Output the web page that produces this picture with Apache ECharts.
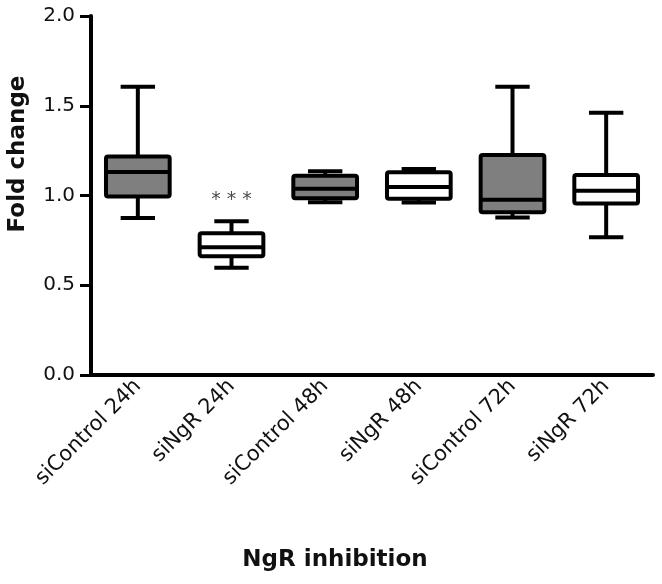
<!DOCTYPE html>
<html>
<head>
<meta charset="utf-8">
<script src="https://cdn.jsdelivr.net/npm/echarts@6/dist/echarts.min.js"></script>
<style>
  html, body { margin: 0; padding: 0; background: #fff; }
  #chart { width: 662px; height: 584px; }
</style>
</head>
<body>
<div id="chart"></div>
<script>
const categories = ['siControl 24h', 'siNgR 24h', 'siControl 48h', 'siNgR 48h', 'siControl 72h', 'siNgR 72h'];
const whiskerLow  = [0.875, 0.598, 0.962, 0.961, 0.877, 0.767];
const q1          = [0.994, 0.662, 0.984, 0.982, 0.906, 0.956];
const median      = [1.131, 0.712, 1.038, 1.048, 0.976, 1.027];
const q3          = [1.217, 0.790, 1.110, 1.130, 1.226, 1.114];
const whiskerHigh = [1.606, 0.857, 1.135, 1.148, 1.606, 1.461];
const significance = ['', '***', '', '', '', ''];
const yTicks = [0, 0.5, 1.0, 1.5, 2.0];

const boxFills = ['#7f7f7f', '#ffffff', '#7f7f7f', '#ffffff', '#7f7f7f', '#ffffff'];
const FONT = 'DejaVu Sans';

const chart = echarts.init(document.getElementById('chart'), null, { renderer: 'canvas' });

const data = categories.map((c, i) => [i, whiskerLow[i], q1[i], median[i], q3[i], whiskerHigh[i]]);

function renderItem(params, api) {
  const i = api.value(0);
  const lo = api.coord([i, api.value(1)]);
  const p1 = api.coord([i, api.value(2)]);
  const pm = api.coord([i, api.value(3)]);
  const p3 = api.coord([i, api.value(4)]);
  const hi = api.coord([i, api.value(5)]);
  const cx = lo[0];
  const bw = api.size([1, 0])[0] * 0.68;
  const hb = bw / 2;
  const hc = bw * 0.27;
  const stroke = { stroke: '#000', lineWidth: 4, lineCap: 'butt' };
  const children = [
    { type: 'line', shape: { x1: cx, y1: p3[1], x2: cx, y2: hi[1] }, style: stroke },
    { type: 'line', shape: { x1: cx - hc, y1: hi[1], x2: cx + hc, y2: hi[1] }, style: stroke },
    { type: 'line', shape: { x1: cx, y1: p1[1], x2: cx, y2: lo[1] }, style: stroke },
    { type: 'line', shape: { x1: cx - hc, y1: lo[1], x2: cx + hc, y2: lo[1] }, style: stroke },
    { type: 'rect', shape: { x: cx - hb, y: p3[1], width: bw, height: p1[1] - p3[1], r: 2 },
      style: { fill: boxFills[i], stroke: '#000', lineWidth: 4, lineJoin: 'round' } },
    { type: 'line', shape: { x1: cx - hb, y1: pm[1], x2: cx + hb, y2: pm[1] }, style: stroke }
  ];
  if (significance[i]) {
    children.push({
      type: 'text', x: cx, y: hi[1] - 21,
      style: { text: significance[i].split('').join(' '), fill: '#4d4d4d', fontSize: 19, fontFamily: FONT,
               align: 'center', verticalAlign: 'middle' }
    });
  }
  return { type: 'group', children: children };
}

chart.setOption({
  animation: false,
  backgroundColor: '#fff',
  grid: { left: 91, right: 9, top: 16, bottom: 209, containLabel: false },
  xAxis: {
    type: 'category',
    data: categories,
    boundaryGap: true,
    axisLine: { lineStyle: { color: '#000', width: 4 } },
    axisTick: { inside: true, alignWithLabel: true, length: 10, lineStyle: { color: '#000', width: 3 } },
    axisLabel: { rotate: 45, margin: 8, fontSize: 21, fontFamily: FONT, color: '#111', interval: 0 },
    splitLine: { show: false }
  },
  yAxis: {
    type: 'value',
    min: yTicks[0],
    max: yTicks[yTicks.length - 1],
    interval: 0.5,
    axisLine: { show: true, lineStyle: { color: '#000', width: 4 } },
    axisTick: { show: true, inside: false, length: 11, lineStyle: { color: '#000', width: 3 } },
    axisLabel: { margin: 16, fontSize: 20, fontFamily: FONT, color: '#111', formatter: v => v.toFixed(1) },
    splitLine: { show: false }
  },
  graphic: [
    { type: 'text', x: 335, y: 560,
      style: { text: 'NgR inhibition', fontSize: 23, fontWeight: 'bold', fontFamily: FONT, fill: '#111',
               align: 'center', verticalAlign: 'middle' } },
    { type: 'text', x: 18, y: 154, rotation: Math.PI / 2,
      style: { text: 'Fold change', fontSize: 23, fontWeight: 'bold', fontFamily: FONT, fill: '#111',
               align: 'center', verticalAlign: 'middle' } }
  ],
  series: [{
    type: 'custom',
    renderItem: renderItem,
    encode: { x: 0, y: [1, 2, 3, 4, 5] },
    data: data,
    z: 5
  }]
});
</script>
</body>
</html>
